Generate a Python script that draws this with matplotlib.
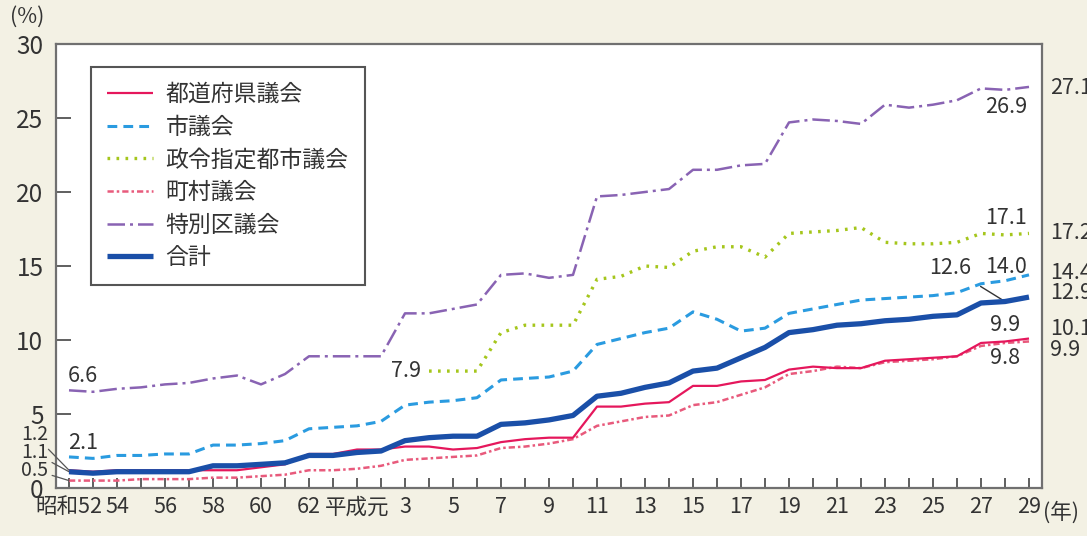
import matplotlib
matplotlib.use("Agg")
import matplotlib.pyplot as plt

plt.rcParams['font.family'] = ['Noto Sans CJK JP', 'DejaVu Sans']

# ---- data -------------------------------------------------------------
years = list(range(1977, 2018))
tick_years = list(range(1977, 2018, 2))
tick_labels = ['昭和52', '54', '56', '58', '60', '62', '平成元', '3', '5', '7', '9',
               '11', '13', '15', '17', '19', '21', '23', '25', '27', '29']

series_names = ['都道府県議会', '市議会', '政令指定都市議会', '町村議会', '特別区議会', '合計']

pref = [1.2, 1.1, 1.2, 1.2, 1.2, 1.2, 1.2, 1.2, 1.4, 1.6, 2.3, 2.3, 2.6, 2.6, 2.8, 2.8,
        2.6, 2.7, 3.1, 3.3, 3.4, 3.4, 5.5, 5.5, 5.7, 5.8, 6.9, 6.9, 7.2, 7.3, 8.0, 8.2,
        8.1, 8.1, 8.6, 8.7, 8.8, 8.9, 9.8, 9.9, 10.1]
city = [2.1, 2.0, 2.2, 2.2, 2.3, 2.3, 2.9, 2.9, 3.0, 3.2, 4.0, 4.1, 4.2, 4.5, 5.6, 5.8,
        5.9, 6.1, 7.3, 7.4, 7.5, 7.9, 9.7, 10.1, 10.5, 10.8, 11.9, 11.4, 10.6, 10.8, 11.8,
        12.1, 12.4, 12.7, 12.8, 12.9, 13.0, 13.2, 13.8, 14.0, 14.4]
desig = [None] * 15 + [7.9, 7.9, 7.9, 10.5, 11.0, 11.0, 11.0, 14.1, 14.3, 15.0, 14.9,
                       16.0, 16.3, 16.3, 15.6, 17.2, 17.3, 17.4, 17.6, 16.6, 16.5, 16.5,
                       16.6, 17.2, 17.1, 17.2]
town = [0.5, 0.5, 0.5, 0.6, 0.6, 0.6, 0.7, 0.7, 0.8, 0.9, 1.2, 1.2, 1.3, 1.5, 1.9, 2.0,
        2.1, 2.2, 2.7, 2.8, 3.0, 3.3, 4.2, 4.5, 4.8, 4.9, 5.6, 5.8, 6.3, 6.8, 7.7, 7.9,
        8.2, 8.1, 8.5, 8.6, 8.7, 8.9, 9.6, 9.8, 9.9]
special = [6.6, 6.5, 6.7, 6.8, 7.0, 7.1, 7.4, 7.6, 7.0, 7.7, 8.9, 8.9, 8.9, 8.9, 11.8,
           11.8, 12.1, 12.4, 14.4, 14.5, 14.2, 14.4, 19.7, 19.8, 20.0, 20.2, 21.5, 21.5,
           21.8, 21.9, 24.7, 24.9, 24.8, 24.6, 25.9, 25.7, 25.9, 26.2, 27.0, 26.9, 27.1]
total = [1.1, 1.0, 1.1, 1.1, 1.1, 1.1, 1.5, 1.5, 1.6, 1.7, 2.2, 2.2, 2.4, 2.5, 3.2, 3.4,
         3.5, 3.5, 4.3, 4.4, 4.6, 4.9, 6.2, 6.4, 6.8, 7.1, 7.9, 8.1, 8.8, 9.5, 10.5, 10.7,
         11.0, 11.1, 11.3, 11.4, 11.6, 11.7, 12.5, 12.6, 12.9]

# ---- figure -----------------------------------------------------------
W, H = 1087, 536
BG = '#f3f1e4'
fig = plt.figure(figsize=(W / 100, H / 100), dpi=100, facecolor=BG)
L, R, T, B = 56, 1042, 44, 488
ax = fig.add_axes([L / W, (H - B) / H, (R - L) / W, (B - T) / H])
ax.set_facecolor('white')

FS = 16.5
TXT = '#333333'

def yv(vals):
    return [float('nan') if v is None else v for v in vals]

styles = [
    dict(color='#e5175c', lw=1.6, ls='-'),
    dict(color='#2a9be0', lw=2.2, ls=(0, (3.2, 2.0))),
    dict(color='#a5c61c', lw=2.4, ls=(0, (0.8, 1.9))),
    dict(color='#e85a7c', lw=1.8, ls=(0, (2.5, 1.2, 1.0, 1.2))),
    dict(color='#8963b3', lw=1.8, ls=(0, (7, 2, 1.2, 2))),
    dict(color='#1a4fa8', lw=3.8, ls='-'),
]
data = [pref, city, desig, town, special, total]
zs = [4, 3, 3, 3, 3, 5]
handles = []
for name, vals, st, z in zip(series_names, data, styles, zs):
    ln, = ax.plot(years, yv(vals), color=st['color'], lw=st['lw'], linestyle=st['ls'],
                  label=name, zorder=z, solid_capstyle='butt', dash_capstyle='butt')
    handles.append(ln)

ax.set_xlim(1977 - 13 / 24, 2017 + 13 / 24)
ax.set_ylim(0, 30)

ax.set_xticks(tick_years)
ax.set_xticklabels(tick_labels)
ax.set_xticks(years, minor=True)
ax.set_yticks([0, 5, 10, 15, 20, 25, 30])
ax.tick_params(axis='x', which='both', direction='in', length=7, width=1.2,
               color='#444444', labelsize=FS - 1, labelcolor=TXT, pad=6)
ax.tick_params(axis='y', which='both', direction='in', length=11, width=1.2,
               color='#444444', labelsize=FS + 1, labelcolor=TXT, pad=9)
for s in ax.spines.values():
    s.set_color('#707070')
    s.set_linewidth(1.6)

# legend
leg = ax.legend(handles=handles, loc='upper left',
                bbox_to_anchor=((91 - L) / (R - L), (B - 67) / (B - T)),
                frameon=True, fancybox=False, edgecolor='#555555', framealpha=1,
                facecolor='white', fontsize=FS, handlelength=2.0, handletextpad=0.55,
                labelspacing=0.42, borderpad=0.7, borderaxespad=0)
leg.get_frame().set_linewidth(1.5)
for t in leg.get_texts():
    t.set_color(TXT)

# value labels -----------------------------------------------------------
PT = 0.72  # px -> points

def lab(x, v, dx, dy, ha='left', size=FS - 1):
    ax.annotate(f'{v:.1f}', xy=(x, v), xytext=(dx * PT, dy * PT),
                textcoords='offset points', ha=ha, va='center', fontsize=size,
                color=TXT, annotation_clip=False)

i0, i_last, i_prev = 0, len(years) - 1, len(years) - 2
lab(years[i0], special[i0], -1, 14)
lab(years[i0], city[i0], -1, 14)
k = next(i for i, v in enumerate(desig) if v is not None)
lab(years[k], desig[k], -8, 0, ha='right')
lab(years[i_prev], special[i_prev], -20, -17)
lab(years[i_prev], desig[i_prev], -20, 17)
lab(years[i_prev], city[i_prev], -20, 14)
lab(years[i_prev], pref[i_prev], -15, 16)
lab(years[i_prev], town[i_prev], -15, -15)
# total 2016 with leader line
ax.annotate(f'{total[i_prev]:.1f}', xy=(years[i_prev], total[i_prev]),
            xytext=(-55 * PT, 34 * PT), textcoords='offset points', ha='center',
            va='center', fontsize=FS - 1, color=TXT,
            arrowprops=dict(arrowstyle='-', color='#333333', lw=1.0,
                            shrinkA=7, shrinkB=0))
# right side
right_dy = [-1, 0, 2, 4, 10, -9]
for vals, dy in zip([special, desig, city, total, pref, town], right_dy):
    lab(years[i_last], vals[i_last], 21, dy)

# small labels at the left of the y axis
for vals, ty in zip([pref, total, town], [435, 453, 470]):
    v = vals[i0]
    ax.annotate(f'{v:.1f}', xy=(years[i0], v), xycoords='data',
                xytext=(48 / W, 1 - ty / H), textcoords='figure fraction',
                ha='right', va='center', fontsize=FS - 2.5, color=TXT,
                annotation_clip=False,
                arrowprops=dict(arrowstyle='-', color='#555555', lw=0.9,
                                shrinkA=1, shrinkB=0))

fig.text(10 / W, 1 - 17 / H, '(%)', ha='left', va='center', fontsize=FS - 1, color=TXT)
fig.text(1043 / W, 1 - 513 / H, '(年)', ha='left', va='center', fontsize=FS - 1, color=TXT)

fig.savefig('out.png', dpi=100, facecolor=BG)
